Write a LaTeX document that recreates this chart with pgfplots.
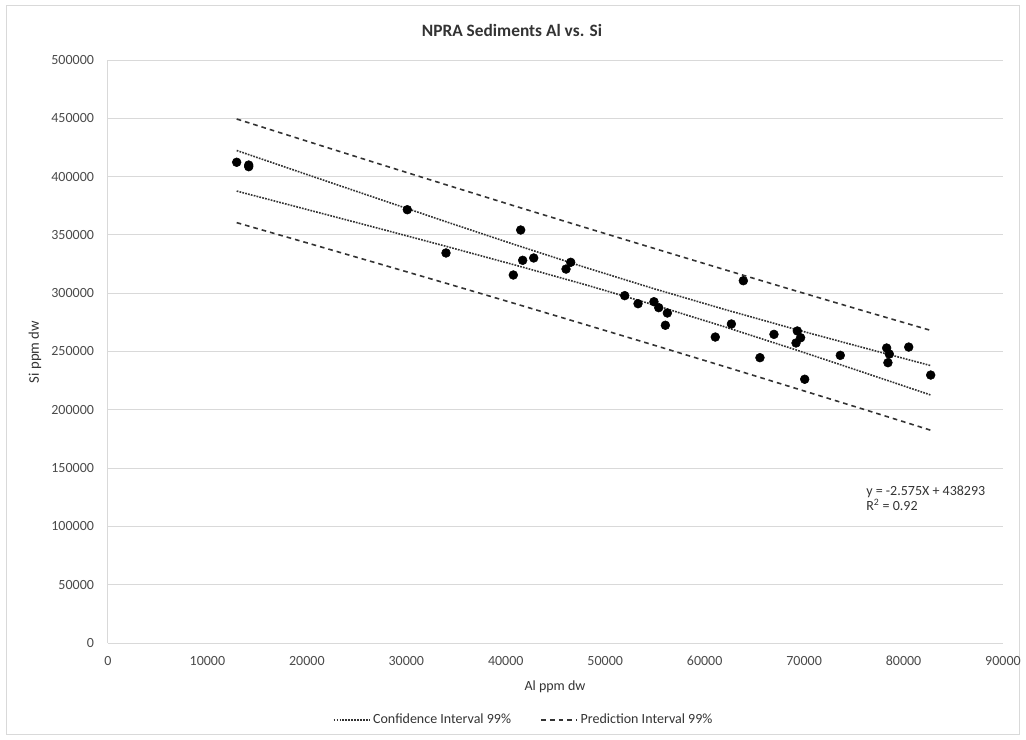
\documentclass[border=0pt]{standalone}
\usepackage{fontspec}
\setmainfont{Carlito}
\usepackage{pgfplots}
\pgfplotsset{compat=1.18}
\definecolor{gridgray}{HTML}{D9D9D9}
\definecolor{txtgray}{HTML}{4A4A4A}
\definecolor{darktxt}{HTML}{333333}
\definecolor{linegray}{HTML}{333333}

\begin{document}
\begin{tikzpicture}[x=1pt,y=1pt]
% page and chart frame
\path (-81,-72.75) rectangle (688.5,482.25);
\draw[gridgray, line width=0.75pt] (-75.75,-68.25) rectangle (683.25,477.75);
\node[font=\bfseries\fontsize{13}{15}\selectfont, color=darktxt] at (303,459.75) {NPRA Sediments Al vs. Si};
\node[font=\fontsize{11}{13}\selectfont, color=darktxt, rotate=90] at (-54.75,218.25) {Si ppm dw};
\node[font=\fontsize{10.5}{12}\selectfont, color=darktxt] at (335.25,-33) {Al ppm dw};
\begin{axis}[
  width=671.25pt, height=437.25pt, scale only axis,
  xmin=0, xmax=90000, ymin=0, ymax=500000,
  xtick={0,10000,...,90000}, ytick={0,50000,...,500000},
  axis lines=left, axis line style={-, draw=gridgray, line width=0.75pt},
  ymajorgrids, grid style={gridgray, line width=0.75pt},
  major tick length=0pt,
  tick label style={font=\fontsize{10.5}{12}\selectfont, color=txtgray},
  xticklabel style={yshift=-6.5pt},
  yticklabel style={xshift=-7pt},
  scaled ticks=false,
  /pgf/number format/assume math mode=true,
  /pgf/number format/fixed,
  /pgf/number format/1000 sep={},
  legend columns=2,
  legend style={at={(0.4648,-0.132)}, anchor=center, draw=none, fill=none,
    font=\fontsize{10.5}{12}\selectfont, text=darktxt,
    /tikz/every even column/.append style={column sep=20pt}},
  legend image code/.code={\draw[#1] (0pt,0pt) -- (27pt,0pt);},
]
% confidence interval 99%
\addplot[linegray, line width=1.2pt, dash pattern=on 1.3pt off 0.9pt] coordinates {
  (12940,422400) (20000,401800) (27000,381500) (34000,361300) (41000,341400)
  (48000,322100) (55000,303600) (62000,286100) (69000,269300) (76000,253200) (82730,237900)};
\addlegendentry{Confidence Interval 99\%}
% prediction interval 99%
\addplot[linegray, line width=1.2pt, dash pattern=on 3.5pt off 3pt] coordinates {
  (12940,449400) (20000,430400) (27000,411600) (34000,393000) (41000,374500)
  (48000,356300) (55000,338200) (62000,320200) (69000,302400) (76000,284800) (82730,268100)};
\addlegendentry{Prediction Interval 99\%}
\addplot[linegray, line width=1.2pt, dash pattern=on 1.3pt off 0.9pt, forget plot] coordinates {
  (12940,387600) (20000,371800) (27000,356100) (34000,340200) (41000,324000)
  (48000,307300) (55000,289700) (62000,271200) (69000,251900) (76000,232000) (82730,212700)};
\addplot[linegray, line width=1.2pt, dash pattern=on 3.5pt off 3pt, forget plot] coordinates {
  (12940,360500) (20000,343200) (27000,325900) (34000,308500) (41000,290900)
  (48000,273100) (55000,255200) (62000,237100) (69000,218800) (76000,200400) (82730,182500)};
% samples
\addplot[only marks, mark=*, mark size=3.3pt, black, forget plot] coordinates {
  (12940,412300) (14150,409900) (14150,408500) (30100,371600) (33990,334500)
  (41500,354200) (41700,328200) (42810,330200) (40760,315600) (46530,326500)
  (46060,320700) (51960,297900) (53300,291000) (54900,292700) (55380,287600)
  (56250,283000) (56050,272500) (63890,310700) (62690,273600) (61070,262400)
  (66970,264700) (65560,244700) (69320,267600) (69650,261800) (69190,257300)
  (70060,226200) (73640,246700) (78300,253000) (78570,247800) (78430,240400)
  (80520,253800) (82730,229800)};
\node[anchor=base west, font=\fontsize{10.5}{12}\selectfont, color=darktxt, inner sep=0pt]
  at (axis cs:76225,126900) {y = -2.575X + 438293};
\node[anchor=base west, font=\fontsize{10.5}{12}\selectfont, color=darktxt, inner sep=0pt]
  at (axis cs:76225,113500) {R\textsuperscript{2} = 0.92};
\end{axis}
\end{tikzpicture}
\end{document}
